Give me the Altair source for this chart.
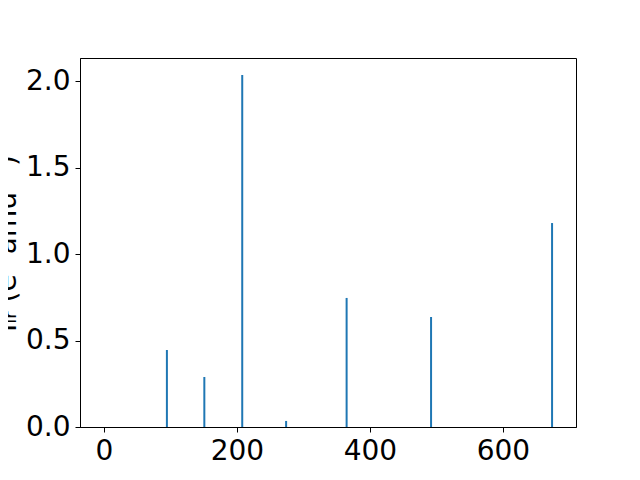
import altair as alt
import pandas as pd

freq = [94.7, 151.0, 208.0, 274.0, 365.0, 492.0, 674.0]
intensity = [0.445, 0.289, 2.035, 0.035, 0.746, 0.636, 1.179]

df = pd.DataFrame({"freq": freq, "intensity": intensity})

FONT = "DejaVu Sans"

chart = alt.Chart(df).mark_bar(size=2, color="#1f77b4").encode(
    x=alt.X(
        "freq:Q",
        scale=alt.Scale(domain=[-36, 710], nice=False, zero=False, padding=0),
        axis=alt.Axis(
            values=[0, 200, 400, 600],
            title="Frequency (cm⁻¹)",
            titleFontSize=28,
            titleFont=FONT,
            titleFontWeight="normal",
            titleColor="black",
            titlePadding=12,
            grid=False,
            labelFont=FONT,
            labelFontSize=28,
            labelColor="black",
            tickColor="black",
            domainColor="black",
            tickSize=5,
            labelPadding=5,
            labelFlush=False,
        ),
    ),
    y=alt.Y(
        "intensity:Q",
        scale=alt.Scale(domain=[0, 2.133], nice=False, padding=0),
        axis=alt.Axis(
            values=[0, 0.5, 1.0, 1.5, 2.0],
            format=".1f",
            title="Iᵢᵣ (e² amu⁻¹)",
            titleFontSize=28,
            titleFont=FONT,
            titleFontWeight="normal",
            titleColor="black",
            titleX=-65,
            titleY=185,
            titleBaseline="alphabetic",
            grid=False,
            labelFont=FONT,
            labelFontSize=28,
            labelColor="black",
            tickColor="black",
            domainColor="black",
            tickSize=5,
            labelPadding=5,
            labelFlush=False,
        ),
    ),
).properties(
    width=496,
    height=369,
    background="white",
    autosize=alt.AutoSizeParams(type="none"),
    padding={"left": 72, "top": 50, "right": 56, "bottom": 39},
).configure_view(
    stroke="black", strokeWidth=1
)

chart.save("out.html", embed_options={"renderer": "svg", "actions": False})
